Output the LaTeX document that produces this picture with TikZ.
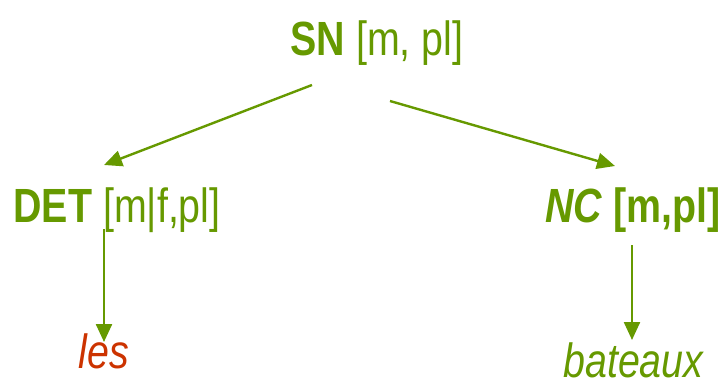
\documentclass[tikz,border=0pt]{standalone}
\usepackage{fontspec}
\setmainfont{Liberation Sans}[FakeStretch=0.82]
\usepackage{tikz}
\usetikzlibrary{positioning, arrows.meta}

\definecolor{leaf}{RGB}{102,153,0}
\definecolor{word}{RGB}{204,51,0}

\begin{document}
\begin{tikzpicture}[x=1pt, y=-1pt,
		t/.style={inner sep=0pt, anchor=base, text=leaf, font=\fontsize{48}{48}\selectfont},
		a/.style={draw=leaf, line width=2.4pt, -{Triangle[length=18pt, width=16pt]}}]
		\useasboundingbox (0,0) rectangle (721,383);

		\node[t] (sn) at (377,55) {\textbf{SN} [m, pl]};
		\node[t] (det) at (117,222) {\textbf{DET} [m|f,pl]};
		\node[t] (nc) at (633,222) {\textbf{\textit{NC} [m,pl]}};
		\node[t, text=word] (les) at (104,368) {\textit{les}};
		\node[t] (bat) at (634,377) {\textit{bateaux}};

		\draw[a] ([shift={(-65,30)}]sn.base) -- ([shift={(-13,-57)}]det.base);
		\draw[a] ([shift={(13,46)}]sn.base) -- ([shift={(-18,-56)}]nc.base);
		\draw[a] ([shift={(-13,7)}]det.base) -- ([shift={(0,-26)}]les.base);
		\draw[a] ([shift={(-1,23)}]nc.base) -- ([shift={(-2,-37)}]bat.base);
	\end{tikzpicture}
\end{document}
